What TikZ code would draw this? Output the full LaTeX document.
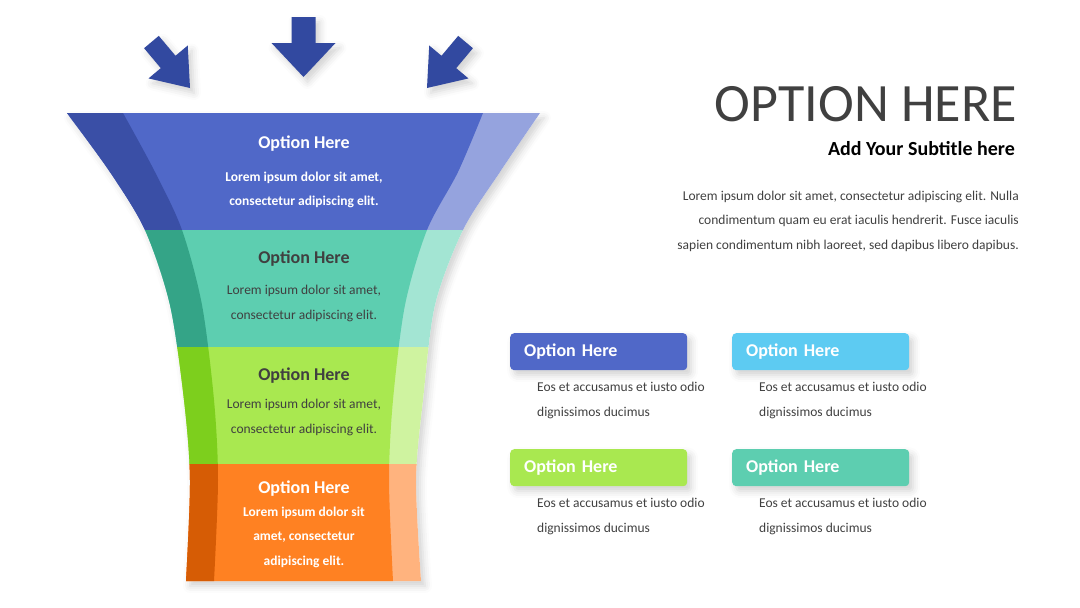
\documentclass[tikz,border=0pt]{standalone}
\usepackage{fontspec}
\setmainfont{Carlito}
\usetikzlibrary{shadows.blur}

\definecolor{blueD}{HTML}{3A4FA6}
\definecolor{blueM}{HTML}{5068C8}
\definecolor{blueL}{HTML}{95A3DE}
\definecolor{tealD}{HTML}{34A487}
\definecolor{tealM}{HTML}{5DCEB0}
\definecolor{tealL}{HTML}{A3E5D3}
\definecolor{greenD}{HTML}{7DCF1D}
\definecolor{greenM}{HTML}{A9E850}
\definecolor{greenL}{HTML}{CFF3A0}
\definecolor{orangeD}{HTML}{D65C05}
\definecolor{orangeM}{HTML}{FF8122}
\definecolor{orangeL}{HTML}{FFB37E}
\definecolor{cyanM}{HTML}{5DCBF2}
\definecolor{pfeilblau}{HTML}{3249A0}
\definecolor{textgrau}{HTML}{404040}

\begin{document}
\begin{tikzpicture}[x=1pt, y=-1pt,
    schatten/.style={blur shadow={shadow xshift=4pt, shadow yshift=-5pt, shadow opacity=18, shadow blur radius=7pt}},
    pfeil/.style={fill=pfeilblau, schatten},
    bandtitel/.style={font=\fontsize{18}{20}\selectfont\bfseries},
    bandtext/.style={font=\fontsize{13.5}{24.5}\selectfont, align=center},
    optbox/.style={rounded corners=4pt, anchor=north west, minimum height=37pt, text width=149pt, inner xsep=14pt, align=left, text=white, font=\fontsize{18}{20}\selectfont\bfseries, schatten},
    boxtext/.style={anchor=west, inner sep=0pt, align=left, text=textgrau, font=\fontsize{13.5}{25}\selectfont}
  ]
  \useasboundingbox (0,0) rectangle (1080,608);

  % Pfeile oben:
  \fill[pfeil, shift={(190,88)}, rotate=40, xscale=0.8] (0,0) -- (-32,-34) -- (-12,-34) -- (-12,-60) -- (12,-60) -- (12,-34) -- (32,-34) -- cycle; % links
  \fill[pfeil, shift={(303.5,77)}] (0,0) -- (-32,-34) -- (-12,-34) -- (-12,-60) -- (12,-60) -- (12,-34) -- (32,-34) -- cycle; % mitte
  \fill[pfeil, shift={(427,88)}, rotate=-40, xscale=0.8] (0,0) -- (-32,-34) -- (-12,-34) -- (-12,-60) -- (12,-60) -- (12,-34) -- (32,-34) -- cycle; % rechts

  % Trichter-Raender:
  \def\randL{plot[smooth] coordinates {(67,113) (110,172) (145,230) (170,305) (184,400) (190,480) (186,581)}}
  \def\randRr{-- plot[smooth] coordinates {(421,581) (416,480) (423,400) (435,305) (463,230) (500,172) (540,113)}}
  \def\innenRr{-- plot[smooth] coordinates {(393,581) (389,480) (393,400) (405,305) (427,230) (458,172) (483,113)}}
  \def\innenLr{-- plot[smooth] coordinates {(214,581) (218,480) (214,400) (202,305) (182,230) (155,172) (123,113)}}

  \fill[white, schatten] \randL \randRr -- cycle; % Schatten

  % Baender:
  \foreach \ya/\yb/\cD/\cM/\cL in {113/230.5/blueD/blueM/blueL, 230/347.5/tealD/tealM/tealL, 347/464.5/greenD/greenM/greenL, 464/581/orangeD/orangeM/orangeL}{
    \begin{scope}
      \clip (0,\ya) rectangle (1080,\yb);
      \fill[\cL] \randL \randRr -- cycle;
      \fill[\cM] \randL \innenRr -- cycle;
      \fill[\cD] \randL \innenLr -- cycle;
    \end{scope}
  }

  % Texte im Trichter:
  \node[bandtitel, text=white] (titel1) at (304,143.5) {Option Here};
  \node[bandtext, text=white, font=\fontsize{13.5}{24.5}\selectfont\bfseries] (text1) at (304,190) {Lorem ipsum dolor sit amet,\\consectetur adipiscing elit.};
  \node[bandtitel, text=textgrau] (titel2) at (304,258.5) {Option Here};
  \node[bandtext, text=textgrau] (text2) at (304,303.5) {Lorem ipsum dolor sit amet,\\consectetur adipiscing elit.};
  \node[bandtitel, text=textgrau] (titel3) at (304,375.5) {Option Here};
  \node[bandtext, text=textgrau] (text3) at (304,417.5) {Lorem ipsum dolor sit amet,\\consectetur adipiscing elit.};
  \node[bandtitel, text=white] (titel4) at (304,488.5) {Option Here};
  \node[bandtext, text=white, font=\fontsize{13.5}{24.5}\selectfont\bfseries] (text4) at (304,537) {Lorem ipsum dolor sit\\amet, consectetur\\adipiscing elit.};

  % Ueberschrift rechts:
  \node[anchor=east, inner sep=0pt, text=textgrau, font=\fontsize{54}{60}\selectfont] (haupttitel) at (1017,104) {OPTION HERE};
  \node[anchor=east, inner sep=0pt, font=\fontsize{20}{22}\selectfont\bfseries] (untertitel) at (1015,149) {Add Your Subtitle here};
  \node[anchor=east, inner sep=0pt, align=right, text=textgrau, font=\fontsize{13.5}{24.5}\selectfont] (absatz) at (1019,221) {Lorem ipsum dolor sit amet, consectetur adipiscing elit. Nulla\\condimentum quam eu erat iaculis hendrerit. Fusce iaculis\\sapien condimentum nibh laoreet, sed dapibus libero dapibus.};

  % Kaesten:
  \node[optbox, fill=blueM] (box1) at (510,333) {Option Here};
  \node[optbox, fill=cyanM] (box2) at (732,333) {Option Here};
  \node[optbox, fill=greenM] (box3) at (510,449) {Option Here};
  \node[optbox, fill=tealM] (box4) at (732,449) {Option Here};
  \node[boxtext] (boxtext1) at (537,400.5) {Eos et accusamus et iusto odio\\dignissimos ducimus};
  \node[boxtext] (boxtext2) at (759,400.5) {Eos et accusamus et iusto odio\\dignissimos ducimus};
  \node[boxtext] (boxtext3) at (537,516.5) {Eos et accusamus et iusto odio\\dignissimos ducimus};
  \node[boxtext] (boxtext4) at (759,516.5) {Eos et accusamus et iusto odio\\dignissimos ducimus};
\end{tikzpicture}
\end{document}
